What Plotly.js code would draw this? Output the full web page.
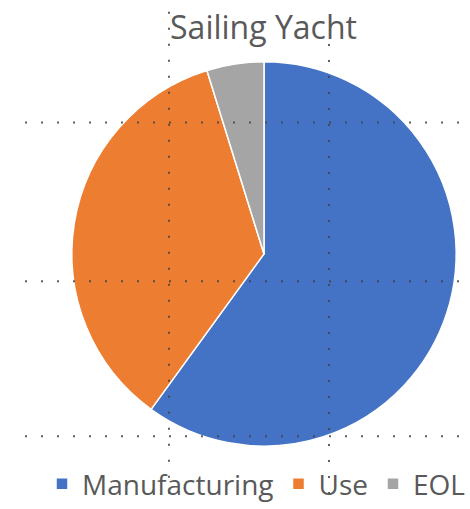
<!DOCTYPE html>
<html>
<head>
<meta charset="utf-8">
<script src="https://cdn.plot.ly/plotly-3.0.1.min.js"></script>
<style>html,body{margin:0;padding:0;background:#fff;}#chart{width:470px;height:509px;}</style>
</head>
<body>
<div id="chart"></div>
<script>
const labels = ["Manufacturing", "Use", "EOL"];
const values = [60.0, 35.2, 4.8];
const colors = ["#4472C4", "#ED7D31", "#A5A5A5"];
const chartTitle = "Sailing Yacht";

const W = 470, H = 509;
const px = x => x / W;
const py = y => 1 - y / H;

function dotted(x0, y0, x1, y1) {
  return {type: "line", xref: "paper", yref: "paper", layer: "above",
    x0: px(x0), y0: py(y0), x1: px(x1), y1: py(y1),
    line: {color: "#444", width: 2, dash: "2px,14px"}, opacity: 0.85};
}

const data = [{
  type: "pie",
  labels: labels,
  values: values,
  marker: {colors: colors, line: {color: "#ffffff", width: 1.5}},
  sort: false,
  direction: "clockwise",
  rotation: 0,
  textinfo: "none",
  hoverinfo: "label+percent",
  domain: {x: [px(68), px(460)], y: [py(455), py(63)]}
}];

const layout = {
  width: W, height: H,
  margin: {l: 0, r: 0, t: 0, b: 0},
  paper_bgcolor: "#ffffff",
  font: {family: "Open Sans, sans-serif", color: "#595959"},
  title: {text: chartTitle, font: {family: "Open Sans, sans-serif", size: 32, color: "#595959"},
    xref: "paper", yref: "container", x: px(263.5), xanchor: "center", y: py(28), yanchor: "middle"},
  showlegend: true,
  legend: {orientation: "h", x: px(46), xanchor: "left", y: py(494), yanchor: "middle",
    font: {family: "Open Sans, sans-serif", size: 28, color: "#595959"}, bgcolor: "rgba(0,0,0,0)"},
  shapes: [
    dotted(25, 125, 470, 125),
    dotted(25, 287, 470, 287),
    dotted(25, 445, 470, 445),
    dotted(169, 12, 169, 509),
    dotted(329, 45, 329, 509)
  ]
};

Plotly.newPlot("chart", data, layout, {displayModeBar: false, staticPlot: true});
</script>
</body>
</html>
